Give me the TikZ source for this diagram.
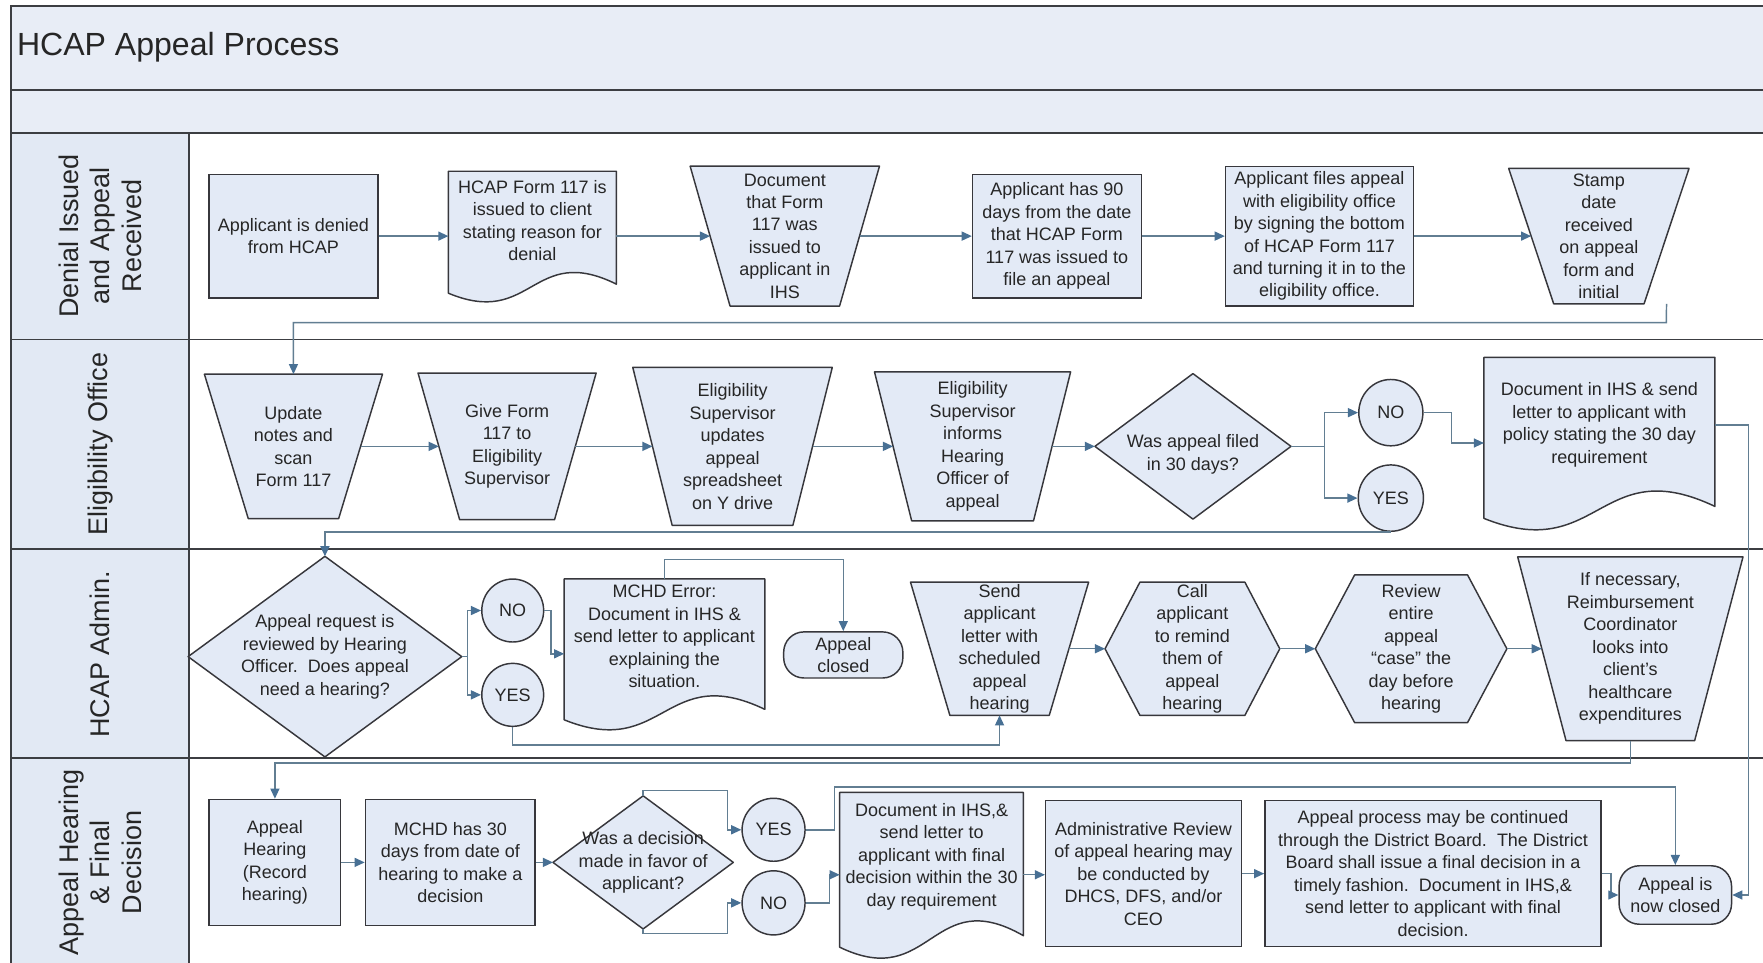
\documentclass[tikz,border=0pt]{standalone}
\usepackage{fontspec}
\setmainfont{Liberation Sans}
\usetikzlibrary{calc,shapes.geometric,arrows.meta}
\pgfdeclarelayer{bg}
\pgfdeclarelayer{shp}
\pgfsetlayers{bg,shp,main}
\definecolor{bandfill}{RGB}{232,237,246}
\definecolor{lanefill}{RGB}{226,233,244}
\definecolor{boxfill}{RGB}{227,234,246}
\definecolor{edgec}{RGB}{55,55,60}
\definecolor{connc}{RGB}{98,126,146}
\definecolor{tipc}{RGB}{72,112,148}
\definecolor{lanec}{RGB}{60,62,66}
\newcommand\manop[2]{\begin{pgfonlayer}{shp}\path[shpline] (#1.north west) -- (#1.north east) -- ([xshift=-#2pt]#1.south east) -- ([xshift=#2pt]#1.south west) -- cycle;\end{pgfonlayer}}
\newcommand\hexa[2]{\begin{pgfonlayer}{shp}\path[shpline] (#1.west) -- ([xshift=#2pt]#1.north west) -- ([xshift=-#2pt]#1.north east) -- (#1.east) -- ([xshift=-#2pt]#1.south east) -- ([xshift=#2pt]#1.south west) -- cycle;\end{pgfonlayer}}
\newcommand\diam[1]{\begin{pgfonlayer}{shp}\path[shpline] (#1.west) -- (#1.north) -- (#1.east) -- (#1.south) -- cycle;\end{pgfonlayer}}
\newcommand\docsh[1]{\begin{pgfonlayer}{shp}\path[shpline] let \p1=(#1.south west), \p2=(#1.north east), \n1={\y2-\y1} in (\x1,\y2) -- (\x2,\y2) -- (\x2,{\y1+0.13*\n1}) .. controls ({0.5*(\x1+\x2)},{\y1+0.45*\n1}) and ({0.5*(\x1+\x2)},{\y1-0.21*\n1}) .. (\x1,{\y1+0.06*\n1}) -- cycle;\end{pgfonlayer}}
\tikzset{
 every node/.style={font=\fontsize{16}{20}\selectfont, align=center, inner sep=0pt, text=black!85},
 sz/.style 2 args={minimum width=#1pt, minimum height=#2pt},
 bx/.style={rectangle, draw=edgec, fill=boxfill, line width=1.3pt},
 inv/.style={rectangle, draw=none},
 circ/.style={ellipse, draw=edgec, fill=boxfill, line width=1.3pt},
 term/.style={rectangle, rounded corners=18pt, draw=edgec, fill=boxfill, line width=1.3pt},
 shpline/.style={draw=edgec, fill=boxfill, line width=1.3pt, line join=round},
 laneline/.style={draw=lanec, line width=1.6pt},
 cn/.style={draw=connc, line width=1.3pt, -{Triangle[length=9pt,width=8pt,color=tipc]}},
 cnl/.style={draw=connc, line width=1.3pt},
 lanelab/.style={rotate=90, font=\fontsize{24}{28}\selectfont},
 txt/.style={}
}
\begin{document}
\begin{tikzpicture}[x=1pt,y=-1pt]
\useasboundingbox (0,0) rectangle (1568,856);
\begin{pgfonlayer}{bg}
\fill[white] (0,0) rectangle (1568,856);
\fill[bandfill] (10,5) rectangle (1575,118);
\fill[lanefill] (10,118) rectangle (168,860);
\draw[laneline] (10,860) -- (10,5) -- (1575,5);
\foreach \yy in {80,118,302,488,674} \draw[laneline] (10,\yy) -- (1575,\yy);
\draw[laneline] (168,118) -- (168,860);
\end{pgfonlayer}

% title and lanes
\node[anchor=west, font=\fontsize{28.5}{32}\selectfont] (title) at (15,42) {HCAP Appeal Process};
\node[lanelab] (lane1) at (89,210) {Denial Issued\\and Appeal\\Received};
\node[lanelab] (lane2) at (89,395) {Eligibility Office};
\node[lanelab] (lane3) at (89,582) {HCAP Admin.};
\node[lanelab] (lane4) at (89,767) {Appeal Hearing\\\& Final\\Decision};

% lane 1
\node[bx, sz={150}{110}] (n1) at (261,210) {Applicant is denied\\from HCAP};
\node[inv, sz={149}{115}] (n2) at (473.5,210) {};
\docsh{n2}
\node[txt] (n2t) at (473.5,196) {HCAP Form 117 is\\issued to client\\stating reason for\\denial};
\node[inv, sz={168}{124}] (n3) at (698,210) {Document\\that Form\\117 was\\issued to\\applicant in\\IHS};
\manop{n3}{35.5}
\node[bx, sz={150}{110}] (n4) at (940,210) {Applicant has 90\\days from the date\\that HCAP Form\\117 was issued to\\file an appeal};
\node[bx, sz={167}{124}] (n5) at (1173.5,210) {Applicant files appeal\\with eligibility office\\by signing the bottom\\of HCAP Form 117\\and turning it in to the\\eligibility office.};
\node[inv, sz={160}{120}] (n6) at (1422,210) {Stamp\\date\\received\\on appeal\\form and\\initial};
\manop{n6}{40}

% lane 2
\node[inv, sz={158}{128}] (n7) at (261,397) {Update\\notes and\\scan\\Form 117};
\manop{n7}{39}
\node[inv, sz={158}{130}] (n8) at (451,397) {Give Form\\117 to\\Eligibility\\Supervisor};
\manop{n8}{37}
\node[inv, sz={177}{140}] (n9) at (651.5,397) {Eligibility\\Supervisor\\updates\\appeal\\spreadsheet\\on Y drive};
\manop{n9}{35}
\node[inv, sz={174}{132}] (n10) at (865,397) {Eligibility\\Supervisor\\informs\\Hearing\\Officer of\\appeal};
\manop{n10}{33}
\node[inv, sz={174}{129}] (n11) at (1061,397) {};
\diam{n11}
\node[txt] (n11t) at (1061,404) {Was appeal filed\\in 30 days?};
\node[circ, sz={57}{59}] (noA) at (1237,367) {NO};
\node[circ, sz={58}{59}] (yesA) at (1237,443) {YES};
\node[inv, sz={205}{152}] (n12) at (1422.5,394) {};
\docsh{n12}
\node[txt] (n12t) at (1422.5,378) {Document in IHS \& send\\letter to applicant with\\policy stating the 30 day\\requirement};

% lane 3
\node[inv, sz={243}{178}] (d2) at (289,584) {};
\diam{d2}
\node[txt] (d2t) at (289,584) {Appeal request is\\reviewed by Hearing\\Officer.\ \ Does appeal\\need a hearing?};
\node[circ, sz={55}{56}] (no2) at (456,543) {NO};
\node[circ, sz={55}{56}] (yes2) at (456,618) {YES};
\node[inv, sz={178}{133}] (mchd) at (591,581.5) {};
\docsh{mchd}
\node[txt] (mchdt) at (591,566) {MCHD Error:\\Document in IHS \&\\send letter to applicant\\explaining the\\situation.};
\node[term, sz={106}{41}] (aclosed) at (750,582.5) {Appeal\\closed};
\node[inv, sz={158}{118}] (n13) at (889,577) {Send\\applicant\\letter with\\scheduled\\appeal\\hearing};
\manop{n13}{35}
\node[inv, sz={155}{118}] (n14) at (1060.5,577) {Call\\applicant\\to remind\\them of\\appeal\\hearing};
\hexa{n14}{31}
\node[inv, sz={170}{131}] (n15) at (1255,577) {Review\\entire\\appeal\\“case” the\\day before\\hearing};
\hexa{n15}{35}
\node[inv, sz={200}{163}] (n16) at (1450,577) {If necessary,\\Reimbursement\\Coordinator\\looks into\\client’s\\healthcare\\expenditures};
\manop{n16}{43}

% lane 4
\node[bx, sz={117}{112}] (n17) at (244.5,767) {Appeal\\Hearing\\(Record\\hearing)};
\node[bx, sz={151}{112}] (n18) at (400.5,767) {MCHD has 30\\days from date of\\hearing to make a\\decision};
\node[inv, sz={160}{118}] (d3) at (572,767) {};
\diam{d3}
\node[txt] (d3t) at (572,767) {Was a decision\\made in favor of\\applicant?};
\node[circ, sz={56}{56}] (yes3) at (688,738) {YES};
\node[circ, sz={56}{57}] (no3) at (688,803) {NO};
\node[inv, sz={163}{146}] (n19) at (828.5,778) {};
\docsh{n19}
\node[txt] (n19t) at (828.5,762) {Document in IHS,\&\\send letter to\\applicant with final\\decision within the 30\\day requirement};
\node[bx, sz={174}{130}] (n20) at (1017,777) {Administrative Review\\of appeal hearing may\\be conducted by\\DHCS, DFS, and/or\\CEO};
\node[bx, sz={299}{130}] (n21) at (1274.5,777) {Appeal process may be continued\\through the District Board.\ \ The District\\Board shall issue a final decision in a\\timely fashion.\ \ Document in IHS,\&\\send letter to applicant with final\\decision.};
\node[term, sz={100}{52}] (close) at (1490,796) {Appeal is\\now closed};

% connectors lane 1
\draw[cn] (n1.east) -- (n2.west);
\draw[cn] (n2.east) -- ([xshift=17.75pt]n3.west);
\draw[cn] ([xshift=-17.75pt]n3.east) -- (n4.west);
\draw[cn] (n4.east) -- (n5.west);
\draw[cn] (n5.east) -- ([xshift=20pt]n6.west);
\coordinate (c67) at (1482,287);
\draw[cn] ([xshift=-20pt]n6.south east) -- (c67) -| (n7.north);

% connectors lane 2
\draw[cn] ([xshift=-19.5pt]n7.east) -- ([xshift=18.5pt]n8.west);
\draw[cn] ([xshift=-18.5pt]n8.east) -- ([xshift=17.5pt]n9.west);
\draw[cn] ([xshift=-17.5pt]n9.east) -- ([xshift=16.5pt]n10.west);
\draw[cn] ([xshift=-16.5pt]n10.east) -- (n11.west);
\coordinate (sp2) at (1178,397);
\draw[cnl] (n11.east) -- (sp2);
\draw[cn] (sp2) |- (noA.west);
\draw[cn] (sp2) |- (yesA.west);
\draw[cn] (noA.east) -- ++(25,0) |- (n12.west);
\draw[cn] ($(n12.east)+(0,-16)$) -- ++(30,0) |- (close.east);
\draw[cn] (yesA.south) -| (d2.north);

% connectors lane 3
\coordinate (sp1) at (416,584);
\draw[cnl] (d2.east) -- (sp1);
\draw[cn] (sp1) |- (no2.west);
\draw[cn] (sp1) |- (yes2.west);
\draw[cn] (no2.east) -- ++(6,0) |- (mchd.west);
\draw[cn] (mchd.north) -- ++(0,-17) -| (aclosed.north);
\draw[cn] (yes2.south) -- ++(0,16) -| (n13.south);
\draw[cn] ([xshift=-17.5pt]n13.east) -- (n14.west);
\draw[cn] (n14.east) -- (n15.west);
\draw[cn] (n15.east) -- ([xshift=21.5pt]n16.west);
\draw[cn] (n16.south) -- ++(0,20) -| (n17.north);

% connectors lane 4
\draw[cn] (n17.east) -- (n18.west);
\draw[cn] (n18.east) -- (d3.west);
\coordinate (dy1) at (647,703);
\coordinate (dy2) at (647,830);
\draw[cn] (d3.north) |- (dy1) |- (yes3.west);
\draw[cn] (d3.south) |- (dy2) |- (no3.west);
\coordinate (ry) at (742,700);
\draw[cn] (yes3.east) -| (ry) -| (close.north);
\draw[cn] (no3.east) -- ++(21,0) |- (n19.west);
\draw[cn] (n19.east) -- (n19.east -| n20.west);
\draw[cn] (n20.east) -- (n21.west);
\draw[cn] (n21.east) -- ++(8,0) |- (close.west);
\end{tikzpicture}
\end{document}
